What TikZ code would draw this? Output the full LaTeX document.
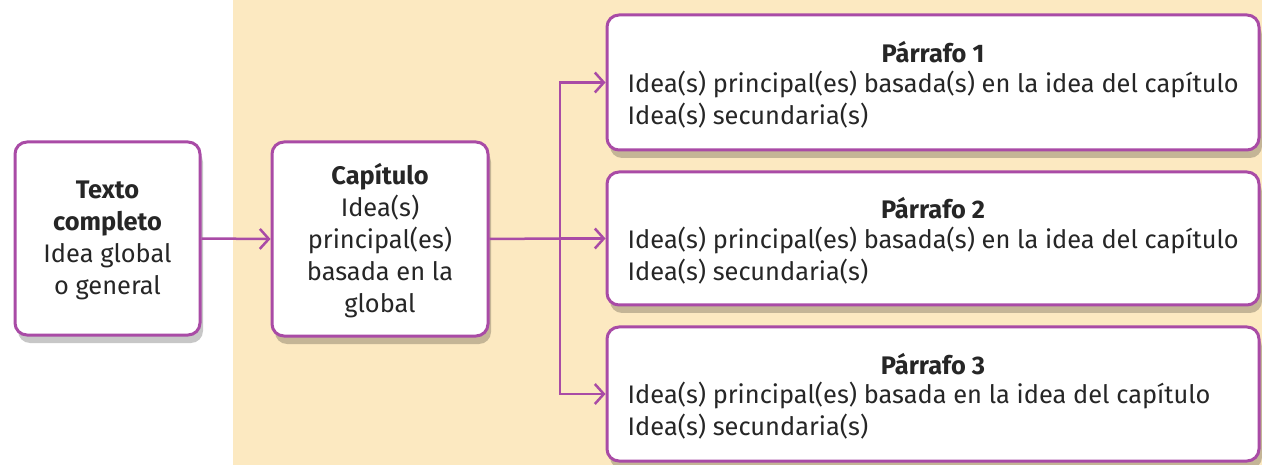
\documentclass[tikz,border=0pt]{standalone}
\usepackage{fontspec}
\setmainfont{Fira Sans}
\usetikzlibrary{arrows.meta,shadows}
\definecolor{bordpurple}{HTML}{A94BA6}
\definecolor{beigebg}{HTML}{FCE9C1}
\definecolor{txtgray}{HTML}{262626}
\tikzset{
  box/.style={draw=bordpurple, line width=3pt, fill=white, rounded corners=12pt,
    inner sep=0pt, align=center, text=txtgray,
    drop shadow={shadow xshift=3pt, shadow yshift=-8pt, fill=black, opacity=0.22}},
  txt/.style={inner sep=0pt, text=txtgray, font=\fontsize{25.4}{32}\selectfont},
  conn/.style={draw=bordpurple, line width=2.5pt},
  arr/.style={conn, -{Straight Barb[length=9pt,width=20pt,line width=2.5pt]}}
}
\begin{document}
\begin{tikzpicture}[x=1pt,y=-1pt]
\useasboundingbox (0,0) rectangle (1262,465);
\fill[white] (0,0) rectangle (1262,465);
\fill[beigebg] (233,0) rectangle (1262,465);

\node[box, minimum width=185pt, minimum height=193pt] (b1) at (107.5,238.5) {};
\node[txt, align=center] (t1) at ([yshift=-2pt]b1.center) {\textbf{Texto}\\\textbf{completo}\\Idea global\\o general};

\node[box, minimum width=216pt, minimum height=194pt] (b2) at (380,239) {};
\node[txt, align=center] (t2) at ([yshift=-2pt]b2.center) {\textbf{Capítulo}\\Idea(s)\\principal(es)\\basada en la\\global};

\node[box, minimum width=652pt, minimum height=135pt] (p1) at (933,82.5) {};
\node[box, minimum width=652pt, minimum height=133pt] (p2) at (933,238.5) {};
\node[box, minimum width=652pt, minimum height=134pt] (p3) at (933,394) {};

\node[txt, font=\fontsize{25.4}{32}\selectfont\bfseries] (h1) at ([yshift=30pt]p1.center) {Párrafo 1};
\node[txt, align=left, anchor=west] (c1) at ([xshift=22pt,yshift=-17pt]p1.west) {Idea(s) principal(es) basada(s) en la idea del capítulo\\Idea(s) secundaria(s)};
\node[txt, font=\fontsize{25.4}{32}\selectfont\bfseries] (h2) at ([yshift=30pt]p2.center) {Párrafo 2};
\node[txt, align=left, anchor=west] (c2) at ([xshift=22pt,yshift=-17pt]p2.west) {Idea(s) principal(es) basada(s) en la idea del capítulo\\Idea(s) secundaria(s)};
\node[txt, font=\fontsize{25.4}{32}\selectfont\bfseries] (h3) at ([yshift=30pt]p3.center) {Párrafo 3};
\node[txt, align=left, anchor=west] (c3) at ([xshift=22pt,yshift=-17pt]p3.west) {Idea(s) principal(es) basada en la idea del capítulo\\Idea(s) secundaria(s)};

\coordinate (j) at (560,238.5);
\draw[arr] (b1.east) -- (b2.west);
\draw[conn] (b2.east) -- (j);
\draw[arr] (j) -- (p2.west);
\draw[arr] (j) |- (p1.west);
\draw[arr] (j) |- (p3.west);
\end{tikzpicture}
\end{document}
